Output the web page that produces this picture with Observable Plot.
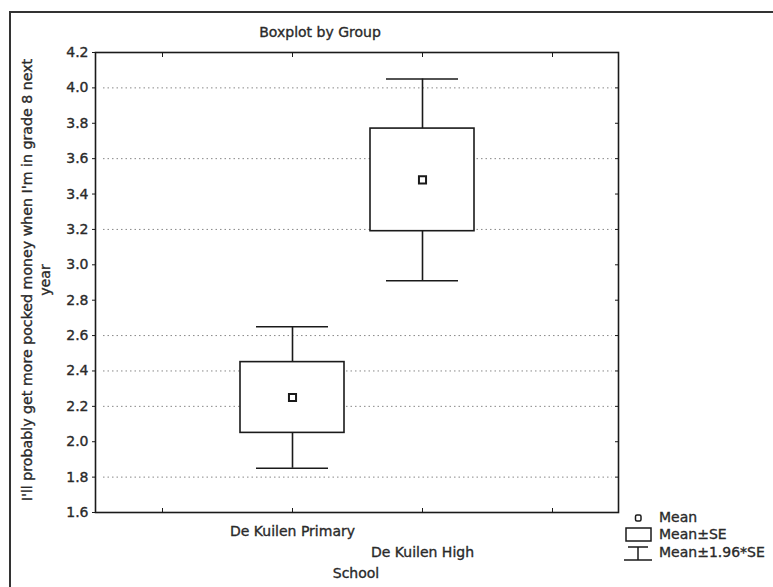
<!DOCTYPE html>
<html>
<head>
<meta charset="utf-8">
<script src="https://cdn.jsdelivr.net/npm/d3@7"></script>
<script src="https://cdn.jsdelivr.net/npm/@observablehq/plot@0.6"></script>
<style>
  html, body { margin: 0; padding: 0; background: #fff; }
  svg { display: block; }
  svg text { stroke: #2a2a2a; stroke-width: 0.35px; }
</style>
</head>
<body>
<div id="chart"></div>
<script>
// ---- data ----
const slots = ["_a", "De Kuilen Primary", "De Kuilen High", "_b"];
const schools = ["De Kuilen Primary", "De Kuilen High"];
const means = [2.25, 3.48];
const seLow = [2.05, 3.19];
const seHigh = [2.45, 3.77];
const ciLow = [1.85, 2.91];
const ciHigh = [2.65, 4.05];
const yTicks = [1.6, 1.8, 2.0, 2.2, 2.4, 2.6, 2.8, 3.0, 3.2, 3.4, 3.6, 3.8, 4.0, 4.2];
const gridValues = [1.8, 2.2, 2.4, 2.6, 3.2, 3.6, 4.0];
const title = "Boxplot by Group";
const yLabelLines = ["I'll probably get more pocked money when I'm in grade 8 next", "year"];
const xTitle = "School";
const legendLabels = ["Mean", "Mean\u00b1SE", "Mean\u00b11.96*SE"];

const rows = schools.map((s, i) => ({
  school: s, mean: means[i], seLow: seLow[i], seHigh: seHigh[i], ciLow: ciLow[i], ciHigh: ciHigh[i]
}));

const FONT = "DejaVu Sans";
const TXT = "#2a2a2a";
const INK = "#1a1a1a";

const chart = Plot.plot({
  width: 773,
  height: 587,
  marginLeft: 95,
  marginRight: 155,
  marginTop: 52,
  marginBottom: 75,
  style: { fontFamily: FONT, fontSize: "14px", color: TXT, background: "#fff" },
  x: { type: "band", domain: slots, paddingInner: 0.2, paddingOuter: 0.1, axis: null },
  y: { domain: [1.6, 4.2], axis: null },
  marks: [
    Plot.ruleY(gridValues, { y: d => d, stroke: "#888", strokeWidth: 1, strokeDasharray: "1.5,3", insetLeft: 8, insetRight: 6 }),
    // left axis with labels, outward ticks
    Plot.axisY({ anchor: "left", ticks: yTicks, tickFormat: d3.format(".1f"), tickSize: 3, tickPadding: 4, label: null, stroke: INK, fill: TXT, fontSize: 14 }),
    // right axis inward ticks
    Plot.axisY({ anchor: "right", ticks: yTicks, tickSize: -4, text: null, label: null, stroke: INK }),
    // top and bottom category ticks (inward)
    Plot.axisX({ anchor: "top", ticks: slots, tickSize: -4, text: null, label: null, stroke: INK }),
    Plot.axisX({ anchor: "bottom", ticks: slots, tickSize: -4, text: null, label: null, stroke: INK }),
    // whiskers
    Plot.ruleX(rows, { x: "school", y1: "ciLow", y2: "ciHigh", stroke: INK, strokeWidth: 1.6 }),
    Plot.tickY(rows, { x: "school", y: "ciLow", stroke: INK, strokeWidth: 1.6, inset: 16 }),
    Plot.tickY(rows, { x: "school", y: "ciHigh", stroke: INK, strokeWidth: 1.6, inset: 16 }),
    // SE boxes
    Plot.barY(rows, { x: "school", y1: "seLow", y2: "seHigh", fill: "#fff", stroke: INK, strokeWidth: 1.6 }),
    // means
    Plot.dot(rows, { x: "school", y: "mean", symbol: "square", r: 4, stroke: INK, strokeWidth: 2, fill: "#fff" }),
    // staggered category labels
    Plot.text([schools[0]], { x: d => d, text: d => d, frameAnchor: "bottom", lineAnchor: "bottom", dy: 23, fill: TXT, fontSize: 14 }),
    Plot.text([schools[1]], { x: d => d, text: d => d, frameAnchor: "bottom", lineAnchor: "bottom", dy: 44, fill: TXT, fontSize: 14 }),
    Plot.frame({ stroke: INK, strokeWidth: 1.6 })
  ]
});

document.getElementById("chart").appendChild(chart);

const svg = d3.select(chart);
// outer frame (top and left edges of the original panel)
svg.append("path").attr("d", "M10,587V12H773").attr("fill", "none").attr("stroke", "#333").attr("stroke-width", 2);

// title
svg.append("text").attr("x", 320).attr("y", 37).attr("text-anchor", "middle")
  .attr("font-family", FONT).attr("font-size", 14).attr("fill", TXT).text(title);

// x axis title
svg.append("text").attr("x", 356).attr("y", 578).attr("text-anchor", "middle")
  .attr("font-family", FONT).attr("font-size", 14).attr("fill", TXT).text(xTitle);

// y axis title (two lines)
const yl = svg.append("text").attr("transform", "translate(32,280) rotate(-90)").attr("text-anchor", "middle")
  .attr("font-family", FONT).attr("font-size", 14.2).attr("fill", TXT);
yl.append("tspan").attr("x", 0).attr("y", 0).text(yLabelLines[0]);
yl.append("tspan").attr("x", 0).attr("y", 18).text(yLabelLines[1]);

// legend
const lg = svg.append("g").attr("stroke", INK).attr("fill", "none").attr("stroke-width", 1.5);
lg.append("rect").attr("x", 635.5).attr("y", 515).attr("width", 5.5).attr("height", 6).attr("rx", 1.5);
lg.append("rect").attr("x", 626).attr("y", 528).attr("width", 25).attr("height", 13);
lg.append("path").attr("d", "M628,547H648M638,547V560M624,560H652");
const lt = svg.append("g").attr("font-family", FONT).attr("font-size", 14).attr("fill", TXT).attr("text-anchor", "start");
[522, 539, 557].forEach((y, i) => lt.append("text").attr("x", 659).attr("y", y).attr("text-anchor", "start").text(legendLabels[i]));
</script>
</body>
</html>
